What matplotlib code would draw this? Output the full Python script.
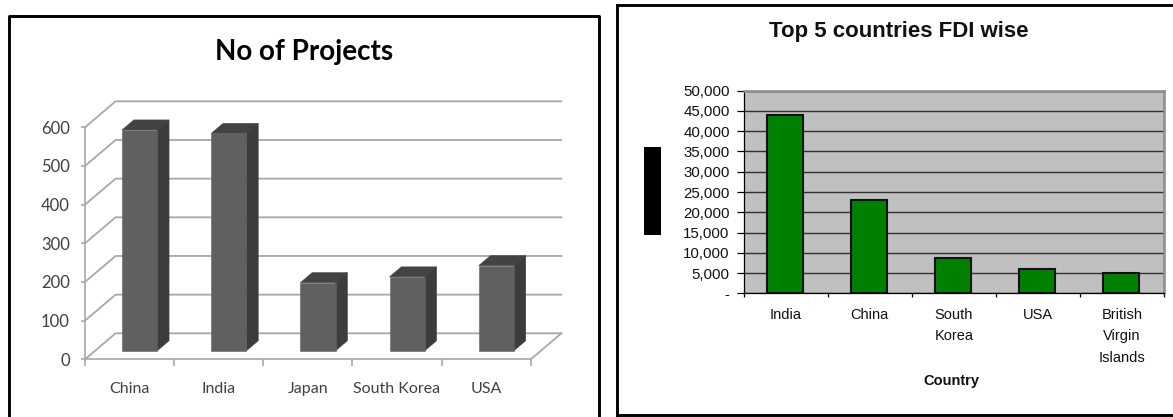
import matplotlib
matplotlib.use("Agg")
import matplotlib.pyplot as plt
from matplotlib.lines import Line2D
from matplotlib.patches import Rectangle
from matplotlib.ticker import FuncFormatter

W, H = 1173, 417

# No of Projects
proj_countries = ["China", "India", "Japan", "South Korea", "USA"]
proj_values = [571, 562, 176, 191, 220]
proj_ticks = [0, 100, 200, 300, 400, 500, 600]

# Top 5 countries FDI wise
fdi_countries = ["India", "China", "South\nKorea", "USA", "British\nVirgin\nIslands"]
fdi_values = [44100, 23000, 8700, 5900, 4900]
fdi_ticks = [0, 5000, 10000, 15000, 20000, 25000, 30000, 35000, 40000, 45000, 50000]


def axes_px(left, top, right, bottom):
    return fig.add_axes([left / W, 1 - bottom / H, (right - left) / W, (bottom - top) / H])


def frame_line(xs, ys, lw=2.1):
    fig.add_artist(Line2D([x / W for x in xs], [1 - y / H for y in ys], color="black",
                          lw=lw, solid_capstyle="projecting"))


fig = plt.figure(figsize=(W / 100, H / 100), dpi=100, facecolor="white")

# outer boxes around the two charts
frame_line([8.5, 8.5, 599, 599], [417, 15.5, 15.5, 417])
frame_line([616.5, 1173], [5, 5])
frame_line([616.5, 616.5], [5, 415])
frame_line([616.5, 1173], [415, 415])

# left chart, fake 3D columns
grey = "#a8a8a8"
depth_x = 0.343
depth_y = 67.2
inset = 0.33
bar_w = 0.395
bar_d = 0.385

ax1 = axes_px(85, 127.3, 530.8, 359.3)
ax1.set_xlim(0, 5)
ax1.set_ylim(0, 600)
ax1.patch.set_visible(False)
for name in ["top", "right"]:
    ax1.spines[name].set_visible(False)
for name in ["left", "bottom"]:
    ax1.spines[name].set_color(grey)
    ax1.spines[name].set_linewidth(1.2)

# back wall gridlines and the slanted lines on the side wall and floor
for t in proj_ticks:
    ax1.plot([0, depth_x, 5 + depth_x], [t, t + depth_y, t + depth_y], color=grey, lw=1.3,
             clip_on=False, zorder=1)
ax1.plot([5, 5 + depth_x], [0, depth_y], color=grey, lw=1.3, clip_on=False, zorder=1)

for i, v in enumerate(proj_values):
    x0 = i + 0.5 + inset * depth_x - bar_w / 2
    x1 = x0 + bar_w
    y0 = inset * depth_y
    y1 = y0 + v
    ddx = bar_d * depth_x
    ddy = bar_d * depth_y
    ax1.fill([x0, x1, x1 + ddx, x0 + ddx], [y1, y1, y1 + ddy, y1 + ddy], facecolor="#434343",
             edgecolor="#434343", lw=0.4, zorder=3, clip_on=False)
    ax1.fill([x1, x1 + ddx, x1 + ddx, x1], [y0, y0 + ddy, y1 + ddy, y1], facecolor="#3c3c3c",
             edgecolor="#3c3c3c", lw=0.4, zorder=3, clip_on=False)
    ax1.bar(x0, v, width=bar_w, bottom=y0, align="edge", color="#606060", edgecolor="#606060",
            lw=0.4, zorder=4, clip_on=False)

ax1.set_yticks(proj_ticks)
ax1.set_xticks(range(6))
ax1.set_xticklabels([])
ax1.set_xticks([i + 0.5 for i in range(5)], minor=True)
ax1.set_xticklabels(proj_countries, minor=True, fontsize=11.5, family="Lato", color="#404040")
ax1.tick_params(axis="x", which="major", length=5, width=1.2, color=grey)
ax1.tick_params(axis="x", which="minor", length=0, pad=16.5)
ax1.tick_params(axis="y", length=3, width=1.2, color=grey, pad=8, labelsize=12, labelcolor="#404040")
for lab in ax1.get_yticklabels():
    lab.set_family("Lato")

fig.text(304 / W, 1 - 52 / H, "No of Projects", family="Lato", fontweight="bold", fontsize=20,
         ha="center", va="center", color="black")

# right chart, plain columns
ax2 = axes_px(743.6, 90.7, 1164, 293.3)
ax2.set_xlim(0, 5)
ax2.set_ylim(0, 50000)
ax2.set_facecolor("#c0c0c0")
ax2.set_axisbelow(True)
ax2.yaxis.grid(True, color="#303030", lw=1)
for name in ["top", "right"]:
    ax2.spines[name].set_color("#8c8c8c")
    ax2.spines[name].set_linewidth(1.8)
for name in ["left", "bottom"]:
    ax2.spines[name].set_color("black")
    ax2.spines[name].set_linewidth(0.9)

ax2.bar([i + 0.49 for i in range(5)], fdi_values, width=0.435, color="#008000",
        edgecolor="#101010", linewidth=1.5)

ax2.set_yticks(fdi_ticks)
ax2.yaxis.set_major_formatter(FuncFormatter(lambda v, p: "-" if v == 0 else f"{int(v):,}"))
ax2.set_xticks(range(6))
ax2.set_xticklabels([])
ax2.set_xticks([i + 0.5 for i in range(5)], minor=True)
ax2.set_xticklabels(fdi_countries, minor=True, fontsize=10.5, family="Liberation Sans",
                    linespacing=1.68, color="#111111")
ax2.tick_params(axis="x", which="major", length=3, width=0.9)
ax2.tick_params(axis="x", which="minor", length=0, pad=10.5)
ax2.tick_params(axis="y", length=5, width=0.9, pad=5, labelsize=10.8, labelcolor="#111111")
for lab in ax2.get_yticklabels():
    lab.set_family("Liberation Sans")

fig.text(899 / W, 1 - 31 / H, "Top 5 countries FDI wise", family="Liberation Sans",
         fontweight="bold", fontsize=16, ha="center", va="center", color="#111111")
fig.text(951.6 / W, 1 - 380.7 / H, "Country", family="Liberation Sans", fontweight="bold",
         fontsize=10.5, ha="center", va="center", color="#111111")

# solid block beside the value axis
fig.add_artist(Rectangle((644.1 / W, 1 - 235 / H), 17 / W, 88 / H, color="black", lw=0,
                         transform=fig.transFigure))

fig.savefig("out.png", dpi=100)
